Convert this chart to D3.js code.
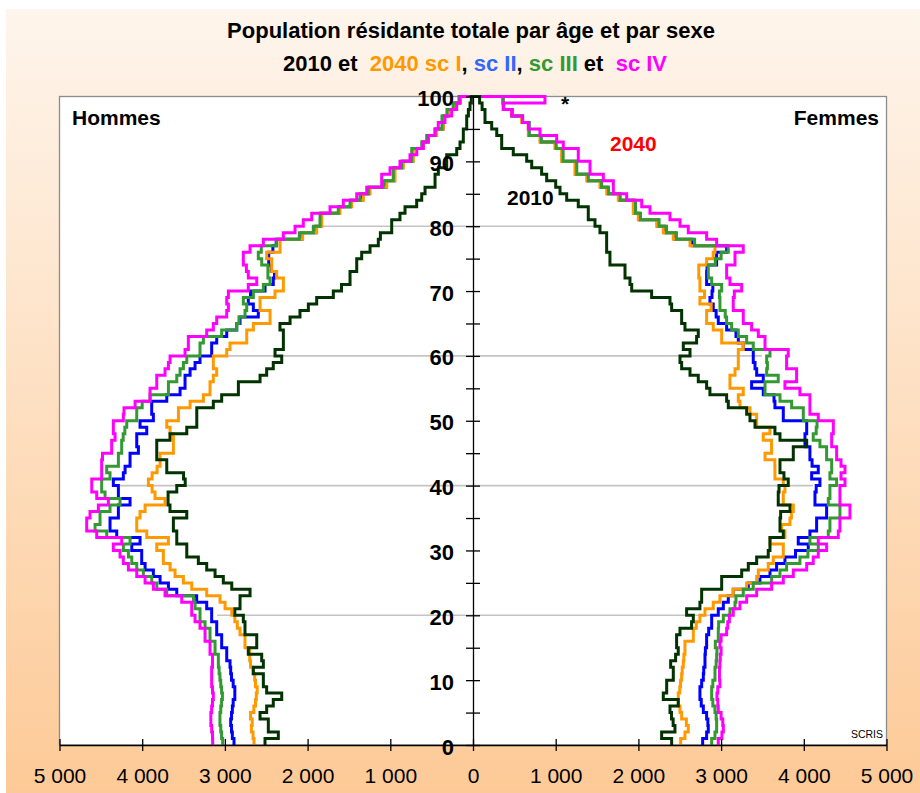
<!DOCTYPE html>
<html>
<head>
<meta charset="utf-8">
<style>
  body { margin: 0; background: #ffffff; }
  svg text { font-family: "Liberation Sans", Arial, sans-serif; }
</style>
</head>
<body>
<div id="chart"></div>
<script src="https://d3js.org/d3.v7.min.js"></script>
<script>

// age classes 0 .. 99 (last class = 99 and more)
var ages = d3.range(0, 100);

// men (left side), persons per age
var men2010 = [2515, 2354, 2475, 2475, 2575, 2495, 2415, 2313, 2495, 2535,
  2535, 2656, 2535, 2555, 2717, 2615, 2615, 2757, 2757, 2777,
  2880, 2817, 2817, 2696, 2917, 3019, 3119, 3220, 3321, 3461,
  3461, 3582, 3582, 3623, 3623, 3461, 3664, 3687, 3687, 3582,
  3480, 3500, 3703, 3703, 3824, 3824, 3824, 3664, 3461, 3340,
  3340, 3340, 3140, 3039, 2837, 2837, 2575, 2495, 2415, 2313,
  2394, 2293, 2293, 2293, 2334, 2212, 2092, 1991, 1890, 1689,
  1590, 1487, 1487, 1406, 1406, 1346, 1245, 1145, 1120, 983,
  983, 883, 822, 681, 620, 580, 459, 459, 419, 318,
  318, 197, 157, 117, 117, 76, 76, 56, 36, 20];
var menI = [2648, 2660, 2680, 2670, 2690, 2650, 2630, 2620, 2610, 2630,
  2640, 2660, 2690, 2700, 2700, 2757, 2757, 2817, 2850, 2880,
  2917, 2998, 3059, 3220, 3401, 3502, 3603, 3663, 3744, 3744,
  3824, 3683, 3945, 4066, 4066, 4026, 3965, 3724, 3845, 3880,
  3925, 3880, 3820, 3784, 3784, 3623, 3623, 3623, 3663, 3703,
  3562, 3562, 3421, 3260, 3180, 3180, 3140, 3099, 3140, 3140,
  2978, 2938, 2736, 2736, 2656, 2454, 2454, 2575, 2575, 2394,
  2293, 2293, 2374, 2434, 2434, 2495, 2333, 2333, 2060, 1890,
  1829, 1829, 1608, 1467, 1326, 1245, 1043, 943, 943, 843,
  722, 722, 601, 540, 439, 359, 359, 299, 218, 157];
var menII = [2890, 2910, 2920, 2930, 2920, 2910, 2900, 2880, 2880, 2900,
  2920, 2930, 2938, 2978, 2978, 3039, 3039, 3099, 3099, 3160,
  3160, 3220, 3341, 3582, 3683, 3784, 3865, 3965, 4006, 4006,
  4126, 4026, 4308, 4389, 4389, 4288, 4288, 4147, 4288, 4288,
  4349, 4228, 4207, 4147, 4147, 4046, 4066, 4066, 3945, 4026,
  3865, 3885, 3885, 3703, 3542, 3482, 3482, 3421, 3361, 3301,
  3160, 3160, 3099, 2978, 2857, 2817, 2596, 2656, 2717, 2690,
  2515, 2415, 2400, 2440, 2470, 2470, 2420, 2380, 2070, 1900,
  1840, 1840, 1620, 1480, 1340, 1255, 1055, 950, 950, 850,
  730, 730, 610, 545, 445, 362, 362, 302, 220, 160];
var menIII = [3027, 3040, 3050, 3060, 3060, 3050, 3040, 3030, 3040, 3050,
  3060, 3070, 3079, 3079, 3119, 3119, 3180, 3180, 3240, 3301,
  3301, 3361, 3380, 3703, 3824, 3885, 3986, 4066, 4126, 4167,
  4228, 4147, 4429, 4570, 4510, 4510, 4389, 4268, 4449, 4490,
  4490, 4389, 4429, 4288, 4288, 4248, 4248, 4230, 4210, 4187,
  4066, 4066, 4000, 3905, 3683, 3683, 3582, 3542, 3502, 3461,
  3301, 3301, 3260, 3039, 2857, 2830, 2757, 2736, 2777, 2656,
  2535, 2454, 2480, 2480, 2555, 2596, 2560, 2374, 2100, 1931,
  1850, 1850, 1629, 1487, 1366, 1266, 1084, 964, 964, 862,
  741, 741, 620, 560, 459, 375, 375, 315, 240, 170];
var menIV = [3148, 3150, 3160, 3170, 3170, 3160, 3150, 3140, 3150, 3160,
  3160, 3160, 3150, 3150, 3180, 3180, 3240, 3240, 3301, 3361,
  3401, 3401, 3522, 3724, 3865, 3965, 4066, 4167, 4228, 4268,
  4349, 4248, 4550, 4671, 4671, 4631, 4530, 4409, 4550, 4610,
  4610, 4490, 4490, 4490, 4480, 4369, 4369, 4328, 4349, 4349,
  4228, 4220, 4086, 3905, 3905, 3824, 3824, 3724, 3683, 3663,
  3482, 3442, 3442, 3220, 3140, 3099, 2978, 2958, 2978, 2958,
  2717, 2615, 2717, 2740, 2777, 2777, 2696, 2535, 2293, 2152,
  2052, 1950, 1729, 1568, 1406, 1285, 1104, 1104, 1003, 883,
  762, 680, 601, 540, 459, 420, 339, 258, 197, 157];

// women (right side)
var women2010 = [2402, 2281, 2442, 2420, 2400, 2382, 2482, 2301, 2342, 2342,
  2422, 2422, 2390, 2450, 2482, 2462, 2462, 2503, 2643, 2664,
  2583, 2744, 2765, 2765, 3007, 3007, 3249, 3329, 3430, 3570,
  3591, 3591, 3752, 3712, 3712, 3720, 3833, 3691, 3691, 3700,
  3812, 3760, 3712, 3712, 3873, 3873, 4035, 3712, 3651, 3410,
  3349, 3309, 3087, 3067, 2865, 2825, 2724, 2624, 2523, 2503,
  2624, 2543, 2704, 2724, 2563, 2523, 2523, 2402, 2382, 2160,
  1919, 1898, 1838, 1838, 1656, 1656, 1616, 1616, 1616, 1535,
  1475, 1394, 1394, 1273, 1133, 1052, 1000, 891, 830, 710,
  649, 487, 347, 347, 287, 226, 145, 145, 110, 80];
var womenI = [2511, 2563, 2603, 2580, 2523, 2503, 2482, 2482, 2500, 2510,
  2523, 2530, 2543, 2550, 2563, 2563, 2664, 2664, 2700, 2744,
  2805, 2905, 2986, 3147, 3309, 3430, 3450, 3570, 3631, 3752,
  3752, 3591, 3772, 3732, 3833, 3850, 3873, 3752, 3752, 3772,
  3752, 3651, 3651, 3650, 3531, 3610, 3610, 3510, 3590, 3430,
  3430, 3349, 3228, 3208, 3268, 3107, 3107, 3168, 3208, 3208,
  3208, 3268, 3007, 3007, 2905, 2825, 2825, 2880, 2744, 2800,
  2744, 2744, 2730, 2730, 2825, 2905, 2926, 2624, 2422, 2301,
  2221, 1999, 1938, 1938, 1757, 1616, 1535, 1375, 1233, 1233,
  1072, 1072, 991, 810, 669, 669, 589, 468, 366, 360];
var womenII = [2777, 2825, 2845, 2840, 2825, 2785, 2760, 2744, 2744, 2765,
  2785, 2790, 2805, 2805, 2810, 2825, 2825, 2850, 2886, 2886,
  2966, 3027, 3087, 3147, 3329, 3470, 3591, 3671, 3772, 3900,
  4054, 3933, 4074, 4155, 4155, 4276, 4276, 4135, 4135, 4150,
  4195, 4095, 4175, 4100, 4074, 4074, 4014, 4014, 4035, 4035,
  3752, 3752, 3651, 3640, 3510, 3369, 3510, 3430, 3410, 3389,
  3389, 3268, 3208, 3180, 3067, 2966, 2940, 2905, 2865, 2890,
  2900, 2825, 2825, 2830, 2946, 2946, 3067, 2650, 2440, 2320,
  2235, 2010, 1950, 1950, 1770, 1630, 1545, 1385, 1245, 1245,
  1080, 1080, 1000, 820, 675, 675, 595, 472, 370, 362];
var womenIII = [2886, 2926, 2946, 2946, 2940, 2926, 2900, 2886, 2886, 2900,
  2926, 2926, 2940, 2946, 2950, 2930, 2966, 2966, 2970, 3027,
  3107, 3168, 3180, 3268, 3389, 3611, 3712, 3792, 3953, 4050,
  4175, 4074, 4296, 4316, 4316, 4437, 4437, 4296, 4316, 4316,
  4397, 4316, 4337, 4337, 4276, 4276, 4195, 4114, 4150, 4160,
  3994, 3994, 3853, 3712, 3531, 3531, 3691, 3551, 3560, 3551,
  3591, 3389, 3309, 3208, 3127, 3067, 3050, 2986, 2986, 2980,
  3007, 2886, 2845, 2845, 2930, 3000, 3087, 2680, 2460, 2340,
  2250, 2025, 1965, 1965, 1780, 1640, 1555, 1395, 1255, 1255,
  1090, 1090, 1005, 825, 680, 680, 600, 475, 372, 364];
var womenIV = [2966, 3010, 3027, 3020, 3000, 2966, 2960, 2950, 2960, 2986,
  2980, 2980, 2986, 2990, 3000, 2986, 3000, 3067, 3080, 3100,
  3147, 3228, 3309, 3430, 3611, 3752, 3873, 4035, 4114, 4175,
  4276, 4175, 4417, 4437, 4437, 4558, 4558, 4437, 4437, 4437,
  4498, 4450, 4498, 4450, 4397, 4397, 4337, 4337, 4357, 4357,
  4175, 4074, 4074, 4074, 3953, 3772, 3913, 3913, 3792, 3792,
  3812, 3531, 3531, 3450, 3369, 3268, 3268, 3147, 3147, 3160,
  3249, 3107, 3067, 3067, 3168, 3168, 3268, 2946, 2825, 2603,
  2503, 2382, 2140, 2040, 1858, 1697, 1697, 1576, 1415, 1415,
  1273, 1273, 1092, 1012, 810, 669, 600, 468, 366, 870];

// light horizontal rules (age, left end, right end; men negative)
var gridAges = [20, 40, 60, 80];
var gridFrom = [-3095, -4268, -3156, -1886];
var gridTo = [2950, 4111, 3494, 1560];

// axis ticks
var popTicks = [-5000, -4000, -3000, -2000, -1000, 0, 1000, 2000, 3000, 4000, 5000];
var ageTicks = d3.range(0, 101, 5);

var width = 920, height = 793;

var svg = d3.select("#chart")
  .append("svg")
    .attr("width", width)
    .attr("height", height);

// peach background
var grad = svg.append("defs").append("linearGradient")
    .attr("id", "bg")
    .attr("x1", 0).attr("y1", 0).attr("x2", 0).attr("y2", 1);
grad.append("stop").attr("offset", "0%").attr("stop-color", "#fef5ec");
grad.append("stop").attr("offset", "100%").attr("stop-color", "#fdca97");

svg.append("rect")
    .attr("x", 6).attr("y", 9)
    .attr("width", width - 6).attr("height", height - 9)
    .attr("fill", "url(#bg)");

var x = d3.scaleLinear().domain([-5000, 5000]).range([59.5, 886.5]);
var y = d3.scaleLinear().domain([0, 100]).range([745, 96.5]);

// plot area
svg.append("rect")
    .attr("x", x(-5000))
    .attr("y", y(100))
    .attr("width", x(5000) - x(-5000))
    .attr("height", y(0) - y(100))
    .attr("fill", "#ffffff")
    .attr("stroke", "#8c8c8c")
    .attr("stroke-width", 1.3);

// rules
svg.append("g")
  .selectAll("line")
  .data(gridAges)
  .enter()
  .append("line")
    .attr("x1", function(d, i) { return x(gridFrom[i]); })
    .attr("x2", function(d, i) { return x(gridTo[i]); })
    .attr("y1", function(d) { return y(d); })
    .attr("y2", function(d) { return y(d); })
    .attr("stroke", "#c4c4c4")
    .attr("stroke-width", 1.6);

// step lines
function stepPoints(values, sign) {
  var pts = [];
  values.forEach(function(v, i) {
    pts.push([sign * v, ages[i]]);
    pts.push([sign * v, ages[i] + 1]);
  });
  pts.push([0, 100]);
  return pts;
}

var line = d3.line()
    .x(function(d) { return x(d[0]); })
    .y(function(d) { return y(d[1]); });

var series = [
  {men: menII, women: womenII, color: "#0000ff"},
  {men: menI, women: womenI, color: "#ff9900"},
  {men: menIII, women: womenIII, color: "#339933"},
  {men: menIV, women: womenIV, color: "#ff00ff"},
  {men: men2010, women: women2010, color: "#003300"}
];

var lines = svg.append("g");
series.forEach(function(s) {
  [[s.men, -1], [s.women, 1]].forEach(function(p) {
    lines.append("path")
      .attr("d", line(stepPoints(p[0], p[1])))
      .attr("fill", "none")
      .attr("stroke", s.color)
      .attr("stroke-width", 3)
      .attr("stroke-linejoin", "miter");
  });
});

// bottom axis
var fr = d3.formatLocale({decimal: ",", thousands: " ", grouping: [3], currency: ["", " €"]});
var fmt = fr.format(",d");

var gx = svg.append("g")
    .attr("transform", "translate(0," + y(0) + ")")
    .call(d3.axisBottom(x).tickValues(popTicks).tickSizeOuter(0)
      .tickFormat(function(d) { return fmt(Math.abs(d)); }));
gx.attr("font-family", null).attr("font-size", null);
gx.select(".domain").attr("stroke", "#000").attr("stroke-width", 1.3);
gx.selectAll(".tick line").attr("y1", -6).attr("y2", 6).attr("stroke", "#000").attr("stroke-width", 1.3);
gx.selectAll(".tick text")
    .attr("y", 38).attr("dy", null)
    .attr("fill", "#000")
    .style("font-size", "21px");

// centre age axis
var gy = svg.append("g")
    .attr("transform", "translate(" + x(0) + ",0)")
    .call(d3.axisLeft(y).tickValues(ageTicks).tickSizeOuter(0)
      .tickFormat(function(d) { return d % 10 === 0 ? d : ""; }));
gy.attr("font-family", null).attr("font-size", null);
gy.select(".domain").attr("stroke", "#000").attr("stroke-width", 1.3);
gy.selectAll(".tick line").attr("x1", -7).attr("x2", 7).attr("stroke", "#000").attr("stroke-width", 1.3);
gy.selectAll(".tick text")
    .attr("x", -19).attr("y", 9).attr("dy", null)
    .attr("fill", "#000")
    .style("font-size", "22px")
    .style("font-weight", "bold");

// titles
svg.append("text")
    .attr("x", 471).attr("y", 38)
    .attr("text-anchor", "middle")
    .style("font-size", "22px").style("font-weight", "bold")
    .text("Population résidante totale par âge et par sexe");

var sub = svg.append("text")
    .attr("x", 475).attr("y", 71)
    .attr("text-anchor", "middle")
    .style("font-size", "22px").style("font-weight", "bold")
    .style("white-space", "pre");
[["2010 et  ", "#000000"], ["2040 sc I", "#ff9900"], [", ", "#000000"], ["sc II", "#3366ff"],
 [", ", "#000000"], ["sc III", "#339933"], [" et  ", "#000000"], ["sc IV", "#ff00ff"]]
  .forEach(function(p) { sub.append("tspan").attr("fill", p[1]).text(p[0]); });

// labels in the plot
function label(txt, px, py, anchor, color, size, weight) {
  svg.append("text")
    .attr("x", px).attr("y", py)
    .attr("text-anchor", anchor)
    .attr("fill", color)
    .style("font-size", size + "px")
    .style("font-weight", weight)
    .text(txt);
}
label("Hommes", 72, 125, "start", "#000", 21, "bold");
label("Femmes", 879, 125, "end", "#000", 21, "bold");
label("2040", 610, 151, "start", "#ff0000", 21, "bold");
label("2010", 507, 205, "start", "#000", 21, "bold");
label("*", 561, 111, "start", "#000", 21, "bold");
label("SCRIS", 883, 738, "end", "#000", 10.5, "normal");

</script>
</body>
</html>
